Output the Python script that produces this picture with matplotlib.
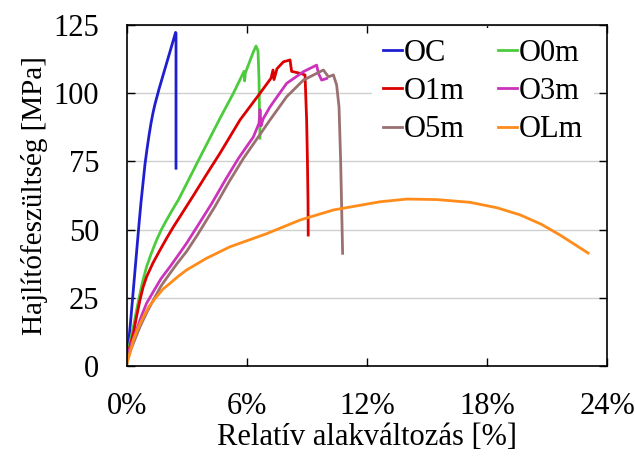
import matplotlib.pyplot as plt
import numpy as np

plt.rcParams['font.family'] = ['Liberation Serif', 'DejaVu Serif']
plt.rcParams['font.size'] = 22

# strain [%] and stress [MPa]
oc_x = [0.0, 0.1, 0.2, 0.3, 0.4, 0.5, 0.6, 0.7, 0.8, 0.9, 1.0, 1.1, 1.2, 1.3, 1.4, 1.6, 1.8, 2.0, 2.2, 2.43, 2.45, 2.45]
oc_y = [3.0, 10.0, 18.0, 26.5, 35.0, 43.5, 52.0, 60.0, 67.0, 74.0, 79.5, 84.5, 89.0, 92.8, 96.0, 101.5, 106.5, 111.5, 116.5, 122.3, 122.0, 72.5]

o0_x = [0.0, 0.16, 0.32, 0.48, 0.65, 0.8, 0.98, 1.2, 1.48, 1.72, 1.98, 2.25, 2.57, 3.65, 4.65, 5.32,
        5.85, 5.88, 5.92, 6.32, 6.45, 6.55, 6.6, 6.62, 6.65]
o0_y = [3.4, 9.0, 14.4, 20.5, 26.6, 31.5, 36.4, 41.0, 46.2, 50.0, 53.5, 57.0, 60.9, 76.5, 90.8, 100.0,
        108.0, 104.5, 107.5, 115.2, 117.3, 115.5, 105.0, 95.0, 83.5]

o1_x = [0.0, 0.16, 0.32, 0.48, 0.65, 0.8, 0.98, 1.3, 1.65, 1.98, 2.32, 2.8, 3.32, 4.0, 4.65, 5.65, 6.65,
        7.2, 7.3, 7.35, 7.5, 7.82, 8.15, 8.23, 8.65, 8.9, 8.98, 9.02, 9.05, 9.06]
o1_y = [3.4, 7.5, 12.0, 18.2, 24.2, 28.8, 32.7, 37.8, 42.5, 46.8, 51.0, 56.5, 62.5, 70.5, 78.0, 90.2, 100.0,
        105.5, 108.5, 105.0, 109.0, 111.5, 112.2, 108.0, 107.3, 106.7, 90.2, 75.5, 60.0, 48.0]

o3_x = [0.0, 0.24, 0.48, 0.72, 0.98, 1.32, 1.7, 2.15, 2.55, 2.98, 3.5, 4.23, 4.9, 5.57, 6.32, 6.6, 6.65,
        6.7, 6.8, 7.15, 7.98, 8.82, 9.48, 9.57, 9.73, 9.98]
o3_y = [3.4, 8.5, 13.2, 18.3, 23.0, 27.3, 32.0, 36.4, 40.5, 45.0, 51.0, 59.5, 68.0, 76.1, 84.0, 89.0, 94.0,
        88.0, 90.5, 95.0, 103.6, 107.9, 110.3, 107.3, 104.8, 105.4]

o5_x = [0.0, 0.3, 0.65, 1.0, 1.32, 1.7, 2.15, 2.55, 2.98, 3.5, 4.4, 5.1, 5.82, 7.15, 7.98, 8.82, 9.65,
        9.82, 10.07, 10.32, 10.48, 10.6, 10.68, 10.74, 10.78]
o5_y = [2.5, 8.0, 14.4, 19.8, 24.2, 29.3, 34.0, 38.0, 42.0, 47.8, 58.5, 67.5, 76.1, 90.2, 98.7, 104.8, 107.9,
        108.5, 106.0, 106.7, 103.0, 95.0, 75.5, 55.0, 41.3]

olm_x = [0.0, 0.16, 0.32, 0.55, 0.82, 1.1, 1.48, 1.8, 2.15, 2.55, 2.98, 3.98, 5.15, 6.98, 8.65, 10.32,
         12.65, 14.0, 15.5, 17.15, 18.5, 19.65, 20.7, 21.65, 23.05]
olm_y = [1.0, 5.0, 9.5, 13.8, 18.0, 21.8, 25.4, 28.2, 30.3, 32.8, 35.2, 39.5, 43.7, 48.5, 53.5, 57.2,
         60.2, 61.2, 61.0, 60.0, 58.0, 55.4, 52.0, 48.0, 41.4]

names = ['OC', 'O0m', 'O1m', 'O3m', 'O5m', 'OLm']
colors = ['#1f1fd0', '#4ccc3c', '#dd0000', '#cc33bb', '#9a7070', '#ff8c1a']
xs = [oc_x, o0_x, o1_x, o3_x, o5_x, olm_x]
ys = [oc_y, o0_y, o1_y, o3_y, o5_y, olm_y]

x_ticks = [0, 6, 12, 18, 24]
y_ticks = [0, 25, 50, 75, 100, 125]

fig = plt.figure(figsize=(6.35, 4.58), dpi=100)
ax = fig.add_axes([0.2, 0.2009, 0.756, 0.7445])

lines = []
for x, y, c, n in zip(xs, ys, colors, names):
    l, = ax.plot(x, y, color=c, lw=2, label=n)
    lines.append(l)

ax.set_xlim(0, 24)
ax.set_ylim(0, 125)
ax.set_xticks(x_ticks)
ax.set_xticklabels([f'{t}%' for t in x_ticks])
ax.set_yticks(y_ticks)
ax.yaxis.grid(True, color='#d0d0d0', lw=1)
ax.set_axisbelow(True)
ax.tick_params(direction='in', length=6, top=True, right=True, width=1)
ax.tick_params(axis='x', pad=19)
ax.tick_params(axis='y', pad=20)
for s in ax.spines.values():
    s.set_linewidth(1.2)

ax.set_xlabel('Relatív alakváltozás [%]', labelpad=1)
ax.set_ylabel('Hajlítófeszültség [MPa]', labelpad=4, fontsize=21)

# legend is filled row by row in the picture
order = [0, 2, 4, 1, 3, 5]
leg = ax.legend([lines[i] for i in order], [names[i] for i in order], ncol=2,
                loc='upper left', bbox_to_anchor=(372 / 635, 1 - 28 / 458),
                bbox_transform=fig.transFigure,
                frameon=True, edgecolor='none', fancybox=False,
                handlelength=0.62, handletextpad=0.05, columnspacing=1.1,
                labelspacing=0.3, borderpad=0.36, borderaxespad=0, fontsize=22)
leg.get_frame().set_alpha(1)

fig.savefig('out.png', dpi=100)
